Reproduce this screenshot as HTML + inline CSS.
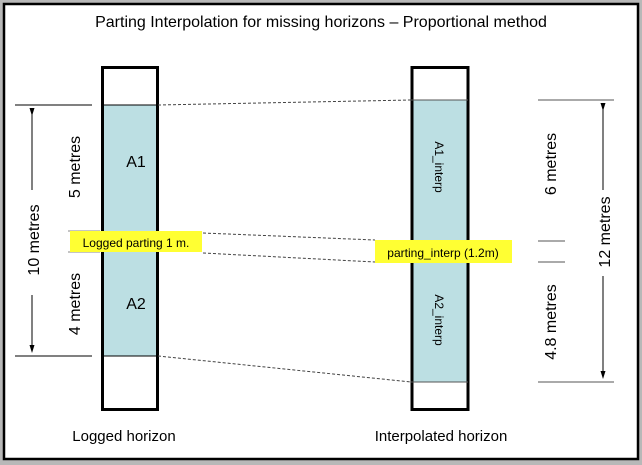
<!DOCTYPE html>
<html><head><style>
body{margin:0;width:642px;height:465px;background:#c0c0c0;overflow:hidden}
svg{display:block}
text{font-family:"Liberation Sans",Arial,sans-serif;fill:#000}
</style></head><body>
<svg width="642" height="465" viewBox="0 0 642 465">
<defs><marker id="a" markerWidth="8" markerHeight="8" refX="4" refY="4" orient="auto"><path d="M0,1.5 L8,4 L0,6.5z" fill="#000"/></marker></defs>
<rect x="0" y="0" width="642" height="465" fill="#b8b8b8"/>
<rect x="4" y="4" width="634" height="455" fill="#fff" stroke="#000" stroke-width="2.5"/>
<text x="321" y="27" font-size="16" text-anchor="middle">Parting Interpolation for missing horizons – Proportional method</text>
<!-- left column -->
<rect x="102" y="105" width="55" height="251" fill="#bcdfe3"/>
<rect x="102.5" y="67.5" width="55" height="342" fill="none" stroke="#000" stroke-width="3"/>
<line x1="102" y1="105" x2="157" y2="105" stroke="#000"/>
<line x1="102" y1="356" x2="157" y2="356" stroke="#000"/>
<!-- right column -->
<rect x="411" y="100" width="57" height="282" fill="#bcdfe3"/>
<rect x="412" y="67.5" width="56" height="342" fill="none" stroke="#000" stroke-width="3"/>
<line x1="411" y1="100" x2="468" y2="100" stroke="#555"/>
<line x1="411" y1="382" x2="468" y2="382" stroke="#555"/>
<!-- dashed connectors -->
<g stroke="#444" stroke-dasharray="3,2" stroke-width="1">
<line x1="158" y1="105" x2="411" y2="100"/>
<line x1="203" y1="233" x2="375" y2="240"/>
<line x1="203" y1="253" x2="375" y2="262"/>
<line x1="158" y1="356" x2="411" y2="382"/>
</g>
<!-- left dimensions -->
<g stroke="#000" stroke-width="1">
<line x1="15" y1="105" x2="92" y2="105"/>
<line x1="15" y1="356" x2="92" y2="356"/>
<line x1="32" y1="112" x2="32" y2="190" marker-start="url(#a)"/>
<line x1="32" y1="295" x2="32" y2="349" marker-end="url(#a)"/>
</g>
<g stroke="#888"><line x1="68" y1="231" x2="100" y2="231"/><line x1="68" y1="252" x2="100" y2="252"/></g>
<text transform="translate(39,240) rotate(-90)" font-size="16" text-anchor="middle">10 metres</text>
<text transform="translate(80,167) rotate(-90)" font-size="16" text-anchor="middle">5 metres</text>
<text transform="translate(80,304) rotate(-90)" font-size="16" text-anchor="middle">4 metres</text>
<text x="136" y="167" font-size="16" text-anchor="middle">A1</text>
<text x="136" y="309" font-size="16" text-anchor="middle">A2</text>
<rect x="70" y="231" width="132" height="21" fill="#ffff33"/>
<text x="136" y="247" font-size="12" text-anchor="middle">Logged parting 1 m.</text>
<!-- right dimensions -->
<g stroke="#555" stroke-width="1">
<line x1="538" y1="100" x2="614" y2="100"/>
<line x1="538" y1="382" x2="614" y2="382"/>
<line x1="538" y1="241" x2="565" y2="241"/>
<line x1="538" y1="262" x2="565" y2="262"/>
</g>
<g stroke="#000"><line x1="603" y1="107" x2="603" y2="190" marker-start="url(#a)"/>
<line x1="603" y1="276" x2="603" y2="375" marker-end="url(#a)"/></g>
<text transform="translate(610,232) rotate(-90)" font-size="16" text-anchor="middle">12 metres</text>
<text transform="translate(556,164) rotate(-90)" font-size="16" text-anchor="middle">6 metres</text>
<text transform="translate(556,322) rotate(-90)" font-size="16" text-anchor="middle">4.8 metres</text>
<text transform="translate(435,167) rotate(90)" font-size="12" text-anchor="middle">A1_interp</text>
<text transform="translate(435,320) rotate(90)" font-size="12" text-anchor="middle">A2_interp</text>
<rect x="375" y="240" width="137" height="23" fill="#ffff33"/>
<text x="443" y="257" font-size="12" text-anchor="middle">parting_interp (1.2m)</text>
<text x="124" y="441" font-size="15" text-anchor="middle">Logged horizon</text>
<text x="441" y="441" font-size="15" text-anchor="middle">Interpolated horizon</text>
</svg>
</body></html>
